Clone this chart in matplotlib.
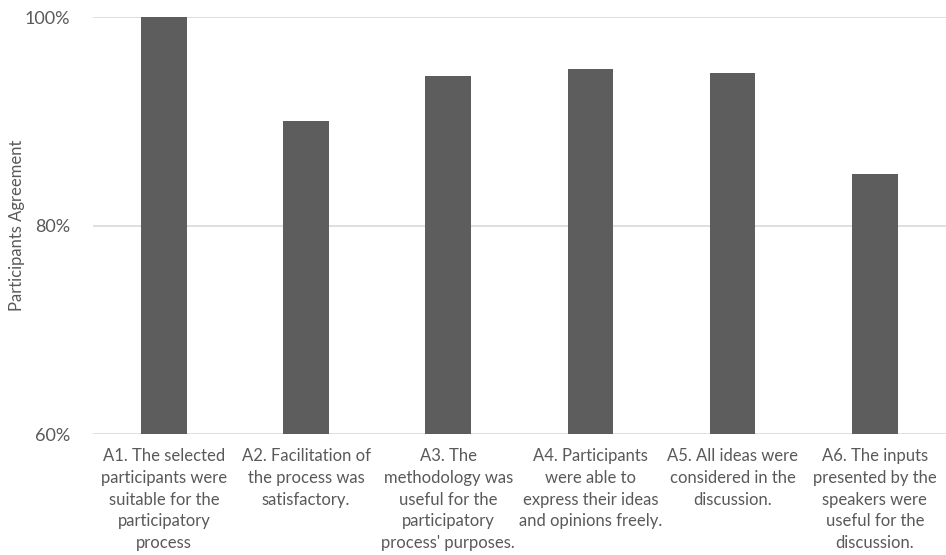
import matplotlib
matplotlib.use("Agg")
import matplotlib.pyplot as plt
from matplotlib.ticker import FuncFormatter

categories = [
    "A1. The selected\nparticipants were\nsuitable for the\nparticipatory\nprocess",
    "A2. Facilitation of\nthe process was\nsatisfactory.",
    "A3. The\nmethodology was\nuseful for the\nparticipatory\nprocess' purposes.",
    "A4. Participants\nwere able to\nexpress their ideas\nand opinions freely.",
    "A5. All ideas were\nconsidered in the\ndiscussion.",
    "A6. The inputs\npresented by the\nspeakers were\nuseful for the\ndiscussion.",
]
values = [100.0, 90.0, 94.4, 95.0, 94.6, 85.0]
y_ticks = [60, 80, 100]

plt.rcParams['font.family'] = ['Lato', 'DejaVu Sans']
text_color = "#595959"

fig = plt.figure(figsize=(9.46, 5.55), dpi=100)
ax = fig.add_axes([0.098, 0.218, 0.902, 0.751])

x = range(len(categories))
ax.bar(x, values, width=0.32, color="#5d5d5d", bottom=0, zorder=3)
ax.set_ylim(60, 100)
ax.set_xlim(-0.5, len(categories) - 0.5)
ax.set_yticks(y_ticks)
ax.yaxis.set_major_formatter(FuncFormatter(lambda v, p: f"{v:.0f}%"))
ax.set_xticks(list(x))
ax.set_xticklabels(categories, fontsize=12, color=text_color, linespacing=1.45, va="top")
ax.tick_params(axis="both", length=0, colors=text_color)
ax.tick_params(axis="x", pad=10, labelsize=12)
ax.tick_params(axis="y", pad=16, labelsize=13)
ax.grid(axis="y", color="#d9d9d9", linewidth=1.2, zorder=0)
for s in ax.spines.values():
    s.set_visible(False)
ax.set_ylabel("Participants Agreement", fontsize=12, color=text_color)
ax.yaxis.set_label_coords(-0.079, 0.5)

fig.savefig("out.png", dpi=100)
